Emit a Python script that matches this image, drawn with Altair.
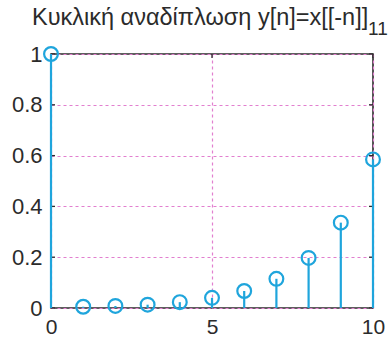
import altair as alt
import pandas as pd

# Sample index and folded sequence values y[n]
n_values = [0, 1, 2, 3, 4, 5, 6, 7, 8, 9, 10]
y_values = [1.0, 0.005, 0.008, 0.013, 0.023, 0.04, 0.067, 0.115, 0.197, 0.336, 0.585]

x_ticks = [0, 5, 10]
y_ticks = [0, 0.2, 0.4, 0.6, 0.8, 1.0]

title_main = "Κυκλική αναδίπλωση y[n]=x[[-n]]"
title_sub = "11"

W, H = 322, 254
STEM = "#1fa5dc"
INK = "#2b2b2b"
GRID = "#e27fcf"
FONT = "Liberation Sans"

df = pd.DataFrame({"n": n_values, "y": y_values})
xt = pd.DataFrame({"t": x_ticks})
yt = pd.DataFrame({"t": y_ticks})

xscale = alt.Scale(domain=[0, 10], nice=False, zero=False)
yscale = alt.Scale(domain=[0, 1], nice=False)

x_axis = alt.Axis(values=x_ticks, title=None, grid=True, ticks=False, domain=False,
                  labelFontSize=21, labelPadding=8, labelColor=INK, labelFont=FONT,
                  gridColor=GRID, gridDash=[3, 3], gridWidth=1.2, labelFlush=False)
y_axis = alt.Axis(values=y_ticks, title=None, grid=True, ticks=False, domain=False,
                  format=".1~f", labelFontSize=22, labelPadding=9, labelColor=INK,
                  labelFont=FONT, gridColor=GRID, gridDash=[3, 3], gridWidth=1.2,
                  labelFlush=False)

base = alt.Chart(df)

stems = base.mark_rule(color=STEM, strokeWidth=2.2).encode(
    x=alt.X("n:Q", scale=xscale, axis=x_axis),
    y=alt.Y("y:Q", scale=yscale, axis=y_axis),
    y2=alt.datum(0),
)

heads = base.mark_point(shape="circle", filled=False, size=190, strokeWidth=2.2,
                        color=STEM, opacity=1, clip=False).encode(
    x=alt.X("n:Q", scale=xscale),
    y=alt.Y("y:Q", scale=yscale),
)

# inward tick marks on all four sides of the box
yt_left = alt.Chart(yt).mark_rule(color=INK, strokeWidth=1.3).encode(
    y=alt.Y("t:Q", scale=yscale), x=alt.value(0), x2=alt.value(4))
yt_right = alt.Chart(yt).mark_rule(color=INK, strokeWidth=1.3).encode(
    y=alt.Y("t:Q", scale=yscale), x=alt.value(W - 4), x2=alt.value(W))
xt_bottom = alt.Chart(xt).mark_rule(color=INK, strokeWidth=1.3).encode(
    x=alt.X("t:Q", scale=xscale), y=alt.value(H), y2=alt.value(H - 4))
xt_top = alt.Chart(xt).mark_rule(color=INK, strokeWidth=1.3).encode(
    x=alt.X("t:Q", scale=xscale), y=alt.value(0), y2=alt.value(4))

title_df = pd.DataFrame({"main": [title_main], "sub": [title_sub]})
title_a = alt.Chart(title_df).mark_text(
    align="left", baseline="alphabetic", fontSize=23.5, font=FONT, color=INK
).encode(text="main:N", x=alt.value(-19), y=alt.value(-29))
title_b = alt.Chart(title_df).mark_text(
    align="left", baseline="alphabetic", fontSize=19, font=FONT, color=INK
).encode(text="sub:N", x=alt.value(317), y=alt.value(-19))

chart = alt.layer(
    yt_left, yt_right, xt_bottom, xt_top, stems, heads, title_a, title_b
).properties(
    width=W, height=H,
    autosize=alt.AutoSizeParams(type="none"),
    padding={"left": 51, "top": 54, "right": 16, "bottom": 31},
    background="white",
).configure_view(stroke=INK, strokeWidth=1.6)

chart.save("out.html", embed_options={"renderer": "svg", "actions": False})
